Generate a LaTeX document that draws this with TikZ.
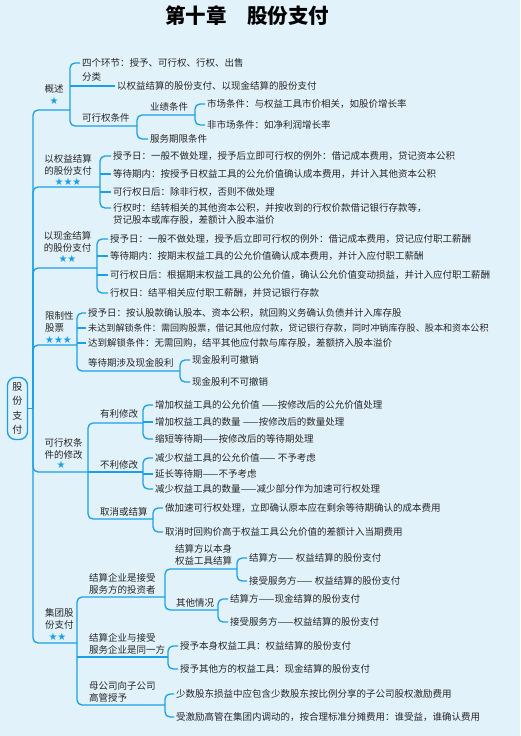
\documentclass[tikz,border=0pt]{standalone}
\usepackage{fontspec}
\setmainfont{Noto Sans CJK SC}
\newfontfamily\starfnt{DejaVu Sans}
\usetikzlibrary{calc}
\definecolor{bg}{HTML}{E2F2FB}
\definecolor{ln}{HTML}{1AA0E6}
\definecolor{tx}{HTML}{262626}
\begin{document}
\begin{tikzpicture}[x=1pt,y=-1pt,
  conn/.style={draw=ln,line width=1.3pt,rounded corners=5pt},
  leaf/.style={anchor=west,inner xsep=2pt,inner ysep=1pt,text=tx,font=\fontsize{9.5}{12}\selectfont},
  lab/.style={anchor=west,inner sep=0pt,text=tx,font=\fontsize{9.5}{12}\selectfont,align=left},
  topl/.style={anchor=center,inner sep=0pt,text=tx,font=\fontsize{9.5}{12}\selectfont,align=center},
  stars/.style={inner sep=0pt,text=ln,font=\starfnt\fontsize{10}{10}\selectfont},
]
\fill[bg] (0,0) rectangle (520,736);
\useasboundingbox (0,0) rectangle (520,736);

\node[font=\fontsize{20.5}{24}\selectfont\bfseries,text=black,inner sep=0pt] (title) at (247,16) {第十章\hspace{1em}股份支付};

% root
\node[draw=ln,line width=1.3pt,rounded corners=8pt,fill=bg,minimum width=20pt,minimum height=62pt,inner sep=0pt,align=center,font=\fontsize{10}{14.5}\selectfont,text=tx] (root) at (17.5,408.5) {股\\份\\支\\付};
\coordinate (spine) at (33,408.5);
\draw[conn] (root.east) -- (spine);

\coordinate (u1) at (70,110);
\coordinate (u2) at (100,187);
\coordinate (u3) at (97,268);
\coordinate (u4) at (77,345);
\coordinate (u5) at (88,472);
\coordinate (u6) at (77,643);
\foreach \u in {u1,u2,u3,u4,u5,u6} \draw[conn] (spine) |- (\u);

% level 1 labels
\node[topl] (n1) at (54,89) {概述};
\node[stars] (s1) at (54,101) {★};
\node[topl] (n2) at (68,164.5) {以权益结算\\的股份支付};
\node[stars] (s2) at (68,182) {★★★};
\node[topl] (n3) at (67.5,241.5) {以现金结算\\的股份支付};
\node[stars] (s3) at (67.5,259) {★★};
\node[lab] (n4) at (45,321.5) {限制性\\股票};
\node[stars] (s4) at (58.5,340) {★★★};
\node[topl] (n5) at (63.5,448.5) {可行权条\\件的修改};
\node[stars] (s5) at (61,465) {★};
\node[lab] (n6) at (45,619) {集团股\\份支付};
\node[stars] (s6) at (57.5,637) {★★};

% section 1
\node[leaf] (a1) at (80,63) {四个环节：授予、可行权、行权、出售};
\node[lab] (a2t) at (82,77) {分类};
\node[leaf] (a2) at (115,86) {以权益结算的股份支付、以现金结算的股份支付};
\node[lab] (a3t) at (82,118) {可行权条件};
\coordinate (u13) at (137,126);
\draw[conn] (a1.west) -| (u1) |- (u13);
\draw[conn] (u1 |- a2.west) -- (a2.west);
\node[lab] (a31t) at (150,107) {业绩条件};
\coordinate (u131) at (195,115);
\node[leaf] (a32) at (148,139) {服务期限条件};
\draw[conn] (u131) -- (u131 -| u13) |- (a32.west);
\node[leaf] (a311) at (205,104) {市场条件：与权益工具市价相关，如股价增长率};
\node[leaf] (a312) at (205,125) {非市场条件：如净利润增长率};
\draw[conn] (a311.west) -| (u131) |- (a312.west);

% section 2
\node[leaf] (b1) at (111,156) {授予日：一般不做处理，授予后立即可行权的例外：借记成本费用，贷记资本公积};
\node[leaf] (b2) at (111,174) {等待期内：按授予日权益工具的公允价值确认成本费用，并计入其他资本公积};
\node[leaf] (b3) at (111,192) {可行权日后：除非行权，否则不做处理};
\node[leaf] (b4) at (111,208) {行权时：结转相关的其他资本公积，并按收到的行权价款借记银行存款等，};
\node[leaf] (b4b) at (111,220) {贷记股本或库存股，差额计入股本溢价};
\draw[conn] (b1.west) -| (u2) |- (b4.west);
\draw[conn] (b2.west) -- (b2.west -| u2);
\draw[conn] (b3.west) -- (b3.west -| u2);

% section 3
\node[leaf] (c1) at (108,239) {授予日：一般不做处理，授予后立即可行权的例外：借记成本费用，贷记应付职工薪酬};
\node[leaf] (c2) at (108,256) {等待期内：按期末权益工具的公允价值确认成本费用，并计入应付职工薪酬};
\node[leaf] (c3) at (108,275) {可行权日后：根据期末权益工具的公允价值，确认公允价值变动损益，并计入应付职工薪酬};
\node[leaf] (c4) at (108,293) {行权日：结平相关应付职工薪酬，并贷记银行存款};
\draw[conn] (c1.west) -| (u3) |- (c4.west);
\draw[conn] (c2.west) -- (c2.west -| u3);
\draw[conn] (c3.west) -- (c3.west -| u3);

% section 4
\node[leaf] (d1) at (86,313) {授予日：按认股款确认股本、资本公积，就回购义务确认负债并计入库存股};
\node[leaf,font=\fontsize{9.1}{12}\selectfont] (d2) at (86,328) {未达到解锁条件：需回购股票，借记其他应付款，贷记银行存款，同时冲销库存股、股本和资本公积};
\node[leaf] (d3) at (86,343) {达到解锁条件：无需回购，结平其他应付款与库存股，差额挤入股本溢价};
\node[lab] (d4t) at (88,363) {等待期涉及现金股利};
\coordinate (u44) at (180,371);
\draw[conn] (d1.west) -| (u4) |- (u44);
\draw[conn] (d2.west) -- (d2.west -| u4);
\draw[conn] (d3.west) -- (d3.west -| u4);
\node[leaf] (d41) at (190,360) {现金股利可撤销};
\node[leaf] (d42) at (190,382) {现金股利不可撤销};
\draw[conn] (d41.west) -| (u44) |- (d42.west);

% section 5
\node[lab] (e1t) at (100,414) {有利修改};
\coordinate (u51) at (143,423);
\node[lab] (e2t) at (100,465) {不利修改};
\coordinate (u52) at (143,472);
\node[lab] (e3t) at (100,512) {取消或结算};
\coordinate (u53) at (153,519);
\draw[conn] (u51) -- (u51 -| u5) |- (u53);
\draw[conn] (u5) -- (u52);
\node[leaf] (e11) at (153,405) {增加权益工具的公允价值 ——按修改后的公允价值处理};
\node[leaf] (e12) at (153,422) {增加权益工具的数量 ——按修改后的数量处理};
\node[leaf] (e13) at (153,439) {缩短等待期——按修改后的等待期处理};
\draw[conn] (e11.west) -| (u51) |- (e13.west);
\draw[conn] (e12.west) -- (e12.west -| u51);
\node[leaf] (e21) at (153,458) {减少权益工具的公允价值—— 不予考虑};
\node[leaf] (e22) at (153,474) {延长等待期——不予考虑};
\node[leaf] (e23) at (153,489) {减少权益工具的数量——减少部分作为加速可行权处理};
\draw[conn] (e21.west) -| (u52) |- (e23.west);
\draw[conn] (e22.west) -- (e22.west -| u52);
\node[leaf] (e31) at (163,508) {做加速可行权处理，立即确认原本应在剩余等待期确认的成本费用};
\node[leaf] (e32) at (163,532) {取消时回购价高于权益工具公允价值的差额计入当期费用};
\draw[conn] (e31.west) -| (u53) |- (e32.west);

% section 6
\node[lab] (f1t) at (89,583.5) {结算企业是接受\\服务方的投资者};
\coordinate (u61) at (165,597);
\node[lab] (f2t) at (89,643.5) {结算企业与接受\\服务企业是同一方};
\coordinate (u62) at (168,657);
\node[lab] (f3t) at (89,691.5) {母公司向子公司\\高管授予};
\coordinate (u63) at (165,705);
\draw[conn] (u61) -- (u61 -| u6) |- (u63);
\draw[conn] (u62 -| u6) -- (u62);
\node[lab] (f11t) at (175,555) {结算方以本身\\权益工具结算};
\coordinate (u611) at (237,569);
\node[lab] (f12t) at (176,603) {其他情况};
\coordinate (u612) at (218,610);
\draw[conn] (u611) -- (u611 -| u61) |- (u612);
\node[leaf] (f111) at (247,558) {结算方—— 权益结算的股份支付};
\node[leaf] (f112) at (247,581) {接受服务方—— 权益结算的股份支付};
\draw[conn] (f111.west) -| (u611) |- (f112.west);
\node[leaf] (f121) at (228,599) {结算方——现金结算的股份支付};
\node[leaf] (f122) at (228,622) {接受服务方——权益结算的股份支付};
\draw[conn] (f121.west) -| (u612) |- (f122.west);
\node[leaf] (f21) at (178,646) {授予本身权益工具：权益结算的股份支付};
\node[leaf] (f22) at (178,669) {授予其他方的权益工具：现金结算的股份支付};
\draw[conn] (f21.west) -| (u62) |- (f22.west);
\node[leaf] (f31) at (174,694) {少数股东损益中应包含少数股东按比例分享的子公司股权激励费用};
\node[leaf] (f32) at (174,717) {受激励高管在集团内调动的，按合理标准分摊费用：谁受益，谁确认费用};
\draw[conn] (f31.west) -| (u63) |- (f32.west);
\end{tikzpicture}
\end{document}
